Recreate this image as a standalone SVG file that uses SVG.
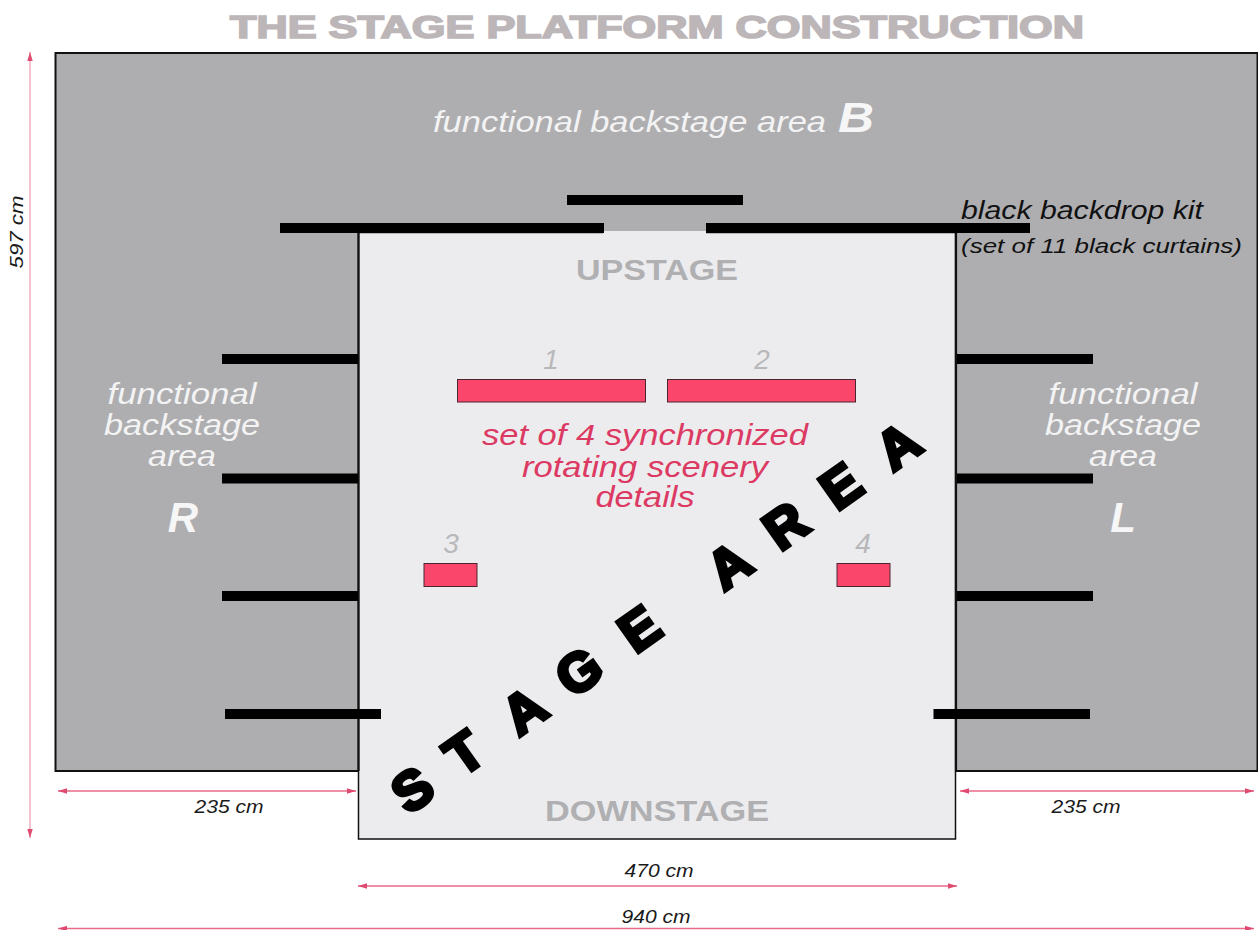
<svg xmlns="http://www.w3.org/2000/svg" width="1258" height="930" viewBox="0 0 1258 930">
<defs>
<marker id="ah" viewBox="0 0 10 6" refX="10" refY="3" markerWidth="9" markerHeight="6" markerUnits="userSpaceOnUse" orient="auto-start-reverse"><path d="M0 0L10 3L0 6Z" fill="#e04a70"/></marker>
</defs>
<style>
text{font-family:"Liberation Sans",Arial,sans-serif}
.bar{fill:#000}
.scen{fill:#fb466c;stroke:#4a2630;stroke-width:1}
.dim{stroke:#e8698a;stroke-width:1.3;fill:none;marker-start:url(#ah);marker-end:url(#ah)}
.dt{font-size:18px;font-style:italic;fill:#1a1a1a;text-anchor:middle}
.wt{font-size:30px;font-style:italic;fill:#f3f3f4;text-anchor:middle}
.num{font-size:28px;font-style:italic;fill:#b8b8bb;text-anchor:middle}
.red{font-size:30px;font-style:italic;fill:#dc3a63;text-anchor:middle}
.big{font-size:42px;font-style:italic;font-weight:bold;fill:#f6f6f7;text-anchor:middle}
.dir{font-size:29px;font-weight:bold;fill:#b0b0b3;text-anchor:middle}
</style>
<rect width="1258" height="930" fill="#fff"/>
<text id="title" x="657" y="38" font-size="31" font-weight="bold" fill="#bcb6b8" stroke="#bcb6b8" stroke-width="1.600" text-anchor="middle" textLength="854" lengthAdjust="spacingAndGlyphs">THE STAGE PLATFORM CONSTRUCTION</text>
<g id="backstage"><rect x="55.500" y="53" width="1202" height="718" fill="#aeaeb0" stroke="#111" stroke-width="2"/></g>
<g id="stage"><rect x="358.500" y="232.500" width="597" height="606.500" fill="#ececee" stroke="#111" stroke-width="1.500"/>
<path d="M358.500 232V771M956 232V771" stroke="#111" stroke-width="2.200" fill="none"/>
<rect x="603" y="231" width="103" height="3" fill="#ececee"/></g>
<g id="curtains">
<rect class="bar" x="567" y="195" width="176" height="10"/>
<rect class="bar" x="280" y="223" width="324" height="10"/>
<rect class="bar" x="706" y="223" width="324" height="10"/>
<rect class="bar" x="222" y="354" width="136" height="10"/>
<rect class="bar" x="222" y="473.500" width="136" height="10"/>
<rect class="bar" x="222" y="591" width="136" height="10"/>
<rect class="bar" x="225" y="709" width="156" height="10"/>
<rect class="bar" x="957" y="354" width="136" height="10"/>
<rect class="bar" x="957" y="473.500" width="136" height="10"/>
<rect class="bar" x="957" y="591" width="136" height="10"/>
<rect class="bar" x="933.500" y="709" width="156.500" height="10"/>
</g>
<g id="scenery-1"><rect class="scen" x="457.500" y="379.500" width="188" height="22.500"/><text class="num" x="551" y="369">1</text></g>
<g id="scenery-2"><rect class="scen" x="667.500" y="379.500" width="188" height="22.500"/><text class="num" x="762" y="369">2</text></g>
<g id="scenery-3"><rect class="scen" x="424" y="563.500" width="53" height="23"/><text class="num" x="451" y="553">3</text></g>
<g id="scenery-4"><rect class="scen" x="837" y="563.500" width="53" height="23"/><text class="num" x="863" y="553">4</text></g>
<g id="labels">
<text class="wt" x="629.500" y="132" textLength="393" lengthAdjust="spacingAndGlyphs">functional backstage area</text>
<text class="big" x="856" y="132" textLength="36" lengthAdjust="spacingAndGlyphs">B</text>
<text class="wt" x="182" y="404" textLength="149" lengthAdjust="spacingAndGlyphs">functional</text><text class="wt" x="182" y="435" textLength="156" lengthAdjust="spacingAndGlyphs">backstage</text><text class="wt" x="182" y="466" textLength="68" lengthAdjust="spacingAndGlyphs">area</text>
<text class="big" x="183" y="532">R</text>
<text class="wt" x="1123" y="404" textLength="149" lengthAdjust="spacingAndGlyphs">functional</text><text class="wt" x="1123" y="435" textLength="156" lengthAdjust="spacingAndGlyphs">backstage</text><text class="wt" x="1123" y="466" textLength="68" lengthAdjust="spacingAndGlyphs">area</text>
<text class="big" x="1123" y="532">L</text>
<text x="961" y="219" font-size="25" font-style="italic" fill="#111" textLength="242" lengthAdjust="spacingAndGlyphs">black backdrop kit</text>
<text x="961" y="253" font-size="20.500" font-style="italic" fill="#111" textLength="281" lengthAdjust="spacingAndGlyphs">(set of 11 black curtains)</text>
<text class="dir" x="657" y="280" textLength="162" lengthAdjust="spacingAndGlyphs">UPSTAGE</text>
<text class="dir" x="657" y="821" textLength="224" lengthAdjust="spacingAndGlyphs">DOWNSTAGE</text>
<text class="red" x="645" y="445" textLength="326" lengthAdjust="spacingAndGlyphs">set of 4 synchronized</text>
<text class="red" x="645" y="477" textLength="246" lengthAdjust="spacingAndGlyphs">rotating scenery</text>
<text class="red" x="645" y="507" textLength="99" lengthAdjust="spacingAndGlyphs">details</text>
<text transform="translate(423.200 804.800) rotate(-35.300)" font-size="54" font-weight="bold" fill="#000" stroke="#000" stroke-width="4" x="-18 47 117.500 183 260 320 368.500 437.500 507 575.500">STAGE AREA</text>
<text class="dt" x="229" y="813" textLength="69" lengthAdjust="spacingAndGlyphs">235 cm</text>
<text class="dt" x="1086" y="813" textLength="69" lengthAdjust="spacingAndGlyphs">235 cm</text>
<text class="dt" x="659" y="877" textLength="69" lengthAdjust="spacingAndGlyphs">470 cm</text>
<text class="dt" x="656" y="923" textLength="69" lengthAdjust="spacingAndGlyphs">940 cm</text>
<text class="dt" transform="translate(23 232) rotate(-90)" textLength="73" lengthAdjust="spacingAndGlyphs">597 cm</text>
</g>
<g id="connectors">
<path class="dim" d="M30 52V838" style="stroke:#f0a2b6"/>
<path class="dim" d="M58 791H356"/>
<path class="dim" d="M960 791H1254"/>
<path class="dim" d="M358 886H957"/>
<path class="dim" d="M58 928.500H1254"/>
</g>
</svg>
